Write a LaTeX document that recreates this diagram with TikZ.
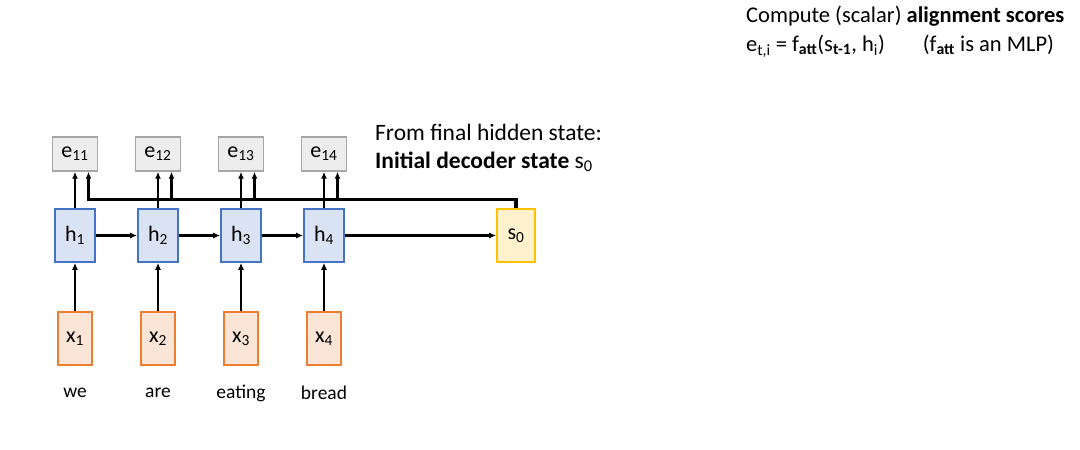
\documentclass[tikz,border=0pt]{standalone}
\usepackage{fontspec}
\setmainfont{Carlito}
\usetikzlibrary{arrows.meta}
\definecolor{hline}{HTML}{4472C4}
\definecolor{hfill}{HTML}{DAE3F3}
\definecolor{xline}{HTML}{ED7D31}
\definecolor{xfill}{HTML}{FBE5D6}
\definecolor{sline}{HTML}{FFC000}
\definecolor{sfill}{HTML}{FFF2CC}
\definecolor{eline}{HTML}{A6A6A6}
\definecolor{efill}{HTML}{EDEDED}
\newcommand{\lo}[1]{\textsubscript{#1}}
\begin{document}
\begin{tikzpicture}[x=1pt,y=-1pt,
  every node/.style={inner sep=0pt},
  hbox/.style={draw=hline,fill=hfill,line width=1.6pt,minimum width=40pt,minimum height=53pt,font=\fontsize{22}{24}\selectfont},
  xbox/.style={draw=xline,fill=xfill,line width=1.6pt,minimum width=34pt,minimum height=53pt,font=\fontsize{22}{24}\selectfont},
  sbox/.style={draw=sline,fill=sfill,line width=1.6pt,minimum width=38pt,minimum height=53pt,font=\fontsize{22}{24}\selectfont},
  ebox/.style={draw=eline,fill=efill,line width=1.4pt,minimum width=45pt,minimum height=34pt,font=\fontsize{22}{24}\selectfont},
  word/.style={font=\fontsize{19.5}{21}\selectfont},
  arr/.style={line width=2.2pt,-{Latex[length=7pt,width=6pt]}},
  bar/.style={line width=3.4pt}]
\useasboundingbox (0,0) rectangle (1080,450);
% encoder
\foreach \i/\cx/\w in {1/75/we,2/158/are,3/241/eating,4/324/bread}{
  \node[xbox] (x\i) at (\cx,338.5) {x\lo{\i}};
  \node[hbox] (h\i) at (\cx,235.5) {h\lo{\i}};
  \node[ebox] (e\i) at (\cx,154) {e\lo{1\i}};
  \node[word] (w\i) at (\cx,393) {\w};
  \coordinate (b\i) at (\cx+13.5,199.5);
  \draw[arr] (x\i) -- (h\i);
  \draw[arr] (h\i) -- (e\i);
}
\node[sbox] (s0) at (516,235.5) {s\lo{0}};
\draw[arr] (h1) -- (h2);
\draw[arr] (h2) -- (h3);
\draw[arr] (h3) -- (h4);
\draw[arr] (h4) -- (s0);
% s0 fed to the scores
\draw[bar] (s0.north) |- ([xshift=-1.7pt]b1);
\foreach \i in {1,...,4}
  \draw[arr] ([yshift=-1.7pt]b\i) -- (b\i |- e\i.south);
% notes
\node[anchor=west,align=left,font=\fontsize{23.5}{28}\selectfont] (init) at (375,148)
  {From final hidden state:\\\textbf{Initial decoder state} s\lo{0}};
\node[anchor=west,align=left,font=\fontsize{22.5}{29}\selectfont] (score) at (746,32)
  {Compute (scalar) \textbf{alignment scores}\\
   e\lo{t,i} = f\lo{\textbf{att}}(s\lo{\textbf{t-1}}, h\lo{i})\hspace{38pt}(f\lo{\textbf{att}} is an MLP)};
\end{tikzpicture}
\end{document}
